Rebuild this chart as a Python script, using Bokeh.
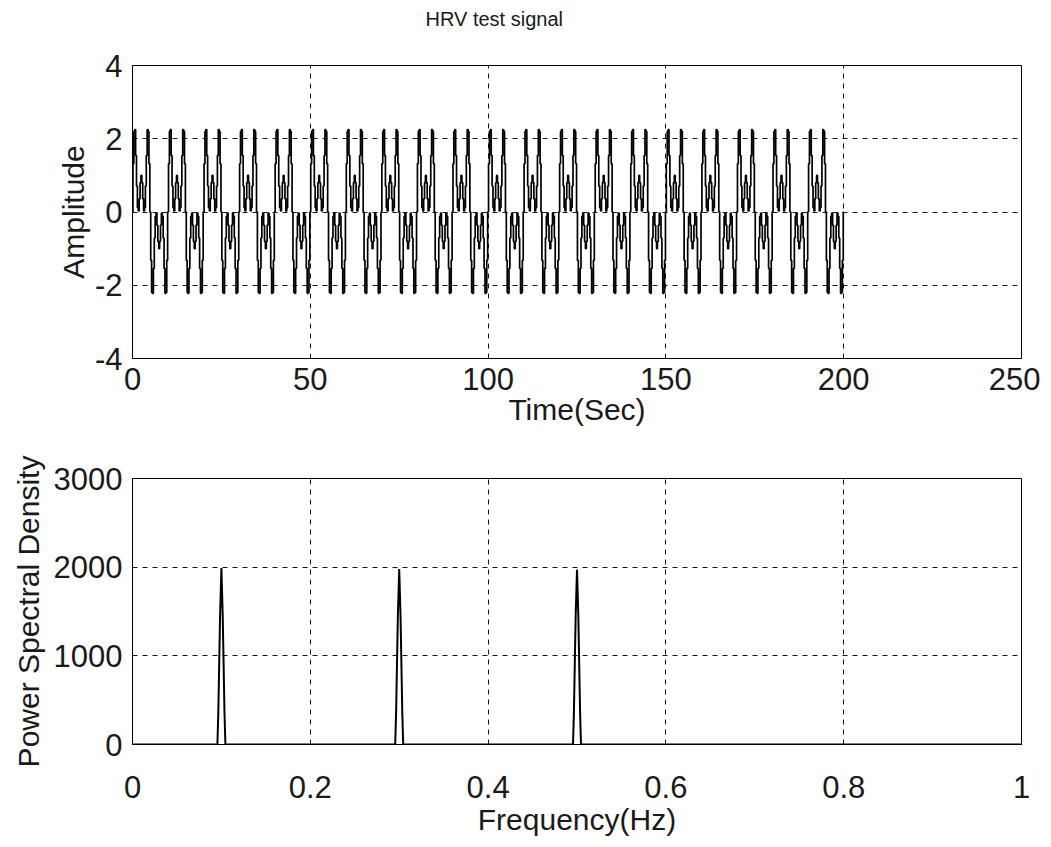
import numpy as np
from bokeh.plotting import figure
from bokeh.layouts import column
from bokeh.models import Range1d, FixedTicker, Title
from bokeh.embed import file_html
from bokeh.resources import INLINE

# ---------------- data ----------------
# one 10 s period of the HRV test signal, read at 0.25 s steps
sample_step = 0.25
signal_period = [0.00, 1.32, 2.20, 2.25, 1.54, 0.71, 0.12, 0.03, 0.36, 0.80,
                 1.00, 0.80, 0.36, 0.03, 0.12, 0.71, 1.54, 2.25, 2.20, 1.32,
                 0.00, -1.32, -2.20, -2.22, -1.54, -0.71, -0.12, -0.03, -0.36, -0.80,
                 -1.00, -0.80, -0.36, -0.03, -0.12, -0.71, -1.54, -2.22, -2.20, -1.32]
n_periods = 20

# power spectral density (frequency in Hz, PSD)
psd_freq = [0.0,
            0.0955, 0.0965, 0.0985, 0.1000, 0.1015, 0.1035, 0.1045,
            0.2955, 0.2965, 0.2985, 0.3000, 0.3015, 0.3035, 0.3045,
            0.4955, 0.4965, 0.4985, 0.5000, 0.5015, 0.5035, 0.5045,
            1.0]
psd_val = [0,
           0, 350, 1450, 1990, 1450, 350, 0,
           0, 350, 1450, 1980, 1450, 350, 0,
           0, 350, 1450, 1970, 1450, 350, 0,
           0]

title_text = "HRV test signal"
top_xticks = [0, 50, 100, 150, 200, 250]
top_xlabels = ["0", "50", "100", "150", "200", "250"]
top_yticks = [-4, -2, 0, 2, 4]
top_ylabels = ["-4", "-2", "0", "2", "4"]
bot_xticks = [0, 0.2, 0.4, 0.6, 0.8, 1.0]
bot_xlabels = ["0", "0.2", "0.4", "0.6", "0.8", "1"]
bot_yticks = [0, 1000, 2000, 3000]
bot_ylabels = ["0", "1000", "2000", "3000"]

signal = list(np.tile(signal_period, n_periods)) + [signal_period[0]]
t = [i * sample_step for i in range(len(signal))]

FONT = "Liberation Sans"
TXT = "#1a1a1a"


def style(p, xt, xl, yt, yl, xtick_so, xlab_so, ylab_so):
    p.outline_line_color = "black"
    p.outline_line_width = 1
    p.xaxis.ticker = FixedTicker(ticks=xt)
    p.yaxis.ticker = FixedTicker(ticks=yt)
    p.xaxis.major_label_overrides = {v: s for v, s in zip(xt, xl)}
    p.yaxis.major_label_overrides = {v: s for v, s in zip(yt, yl)}
    for ax in (p.xaxis[0], p.yaxis[0]):
        ax.major_tick_in = 0
        ax.major_tick_out = 0
        ax.minor_tick_in = 0
        ax.minor_tick_out = 0
        ax.axis_line_color = "black"
        ax.major_label_text_font = FONT
        ax.major_label_text_font_size = "31px"
        ax.major_label_text_color = TXT
        ax.axis_label_text_font = FONT
        ax.axis_label_text_font_size = "30px"
        ax.axis_label_text_font_style = "normal"
        ax.axis_label_text_color = TXT
    p.xaxis.major_label_standoff = xtick_so
    p.yaxis.major_label_standoff = 10
    p.xaxis.axis_label_standoff = xlab_so
    p.yaxis.axis_label_standoff = ylab_so
    for g in (p.xgrid[0], p.ygrid[0]):
        g.grid_line_color = "black"
        g.grid_line_dash = "5 5"
        g.grid_line_width = 1
        g.grid_line_alpha = 0.9
    p.background_fill_color = "white"
    p.border_fill_color = "white"


# ---------------- top figure ----------------
p1 = figure(width=1040, height=439, output_backend="svg", toolbar_location=None,
            x_range=Range1d(0, 250), y_range=Range1d(-4, 4),
            min_border_left=132, min_border_right=19, min_border_top=65,
            min_border_bottom=81,
            x_axis_label="Time(Sec)", y_axis_label="Amplitude")
style(p1, top_xticks, top_xlabels, top_yticks, top_ylabels, 9, 0, 2)
p1.step(t, signal, mode="center", line_color="black", line_width=1.7)
# empty spacer next to the frame, real title further out (near page top)
p1.add_layout(Title(text=" ", text_font_size="10px", standoff=16), "above")
p1.add_layout(Title(text=title_text, text_font=FONT, text_font_size="20px",
                    text_font_style="normal", text_color=TXT, align="left",
                    offset=293, vertical_align="top", standoff=10), "above")

# ---------------- bottom figure ----------------
p2 = figure(width=1040, height=407, output_backend="svg", toolbar_location=None,
            x_range=Range1d(0, 1), y_range=Range1d(0, 3000),
            min_border_left=132, min_border_right=19, min_border_top=39,
            min_border_bottom=102,
            x_axis_label="Frequency(Hz)", y_axis_label="Power Spectral Density")
style(p2, bot_xticks, bot_xlabels, bot_yticks, bot_ylabels, 31, 2, 6)
p2.line(psd_freq, psd_val, line_color="black", line_width=2)

layout = column(p1, p2, spacing=0)
open("out.html", "w").write(file_html(layout, INLINE))
